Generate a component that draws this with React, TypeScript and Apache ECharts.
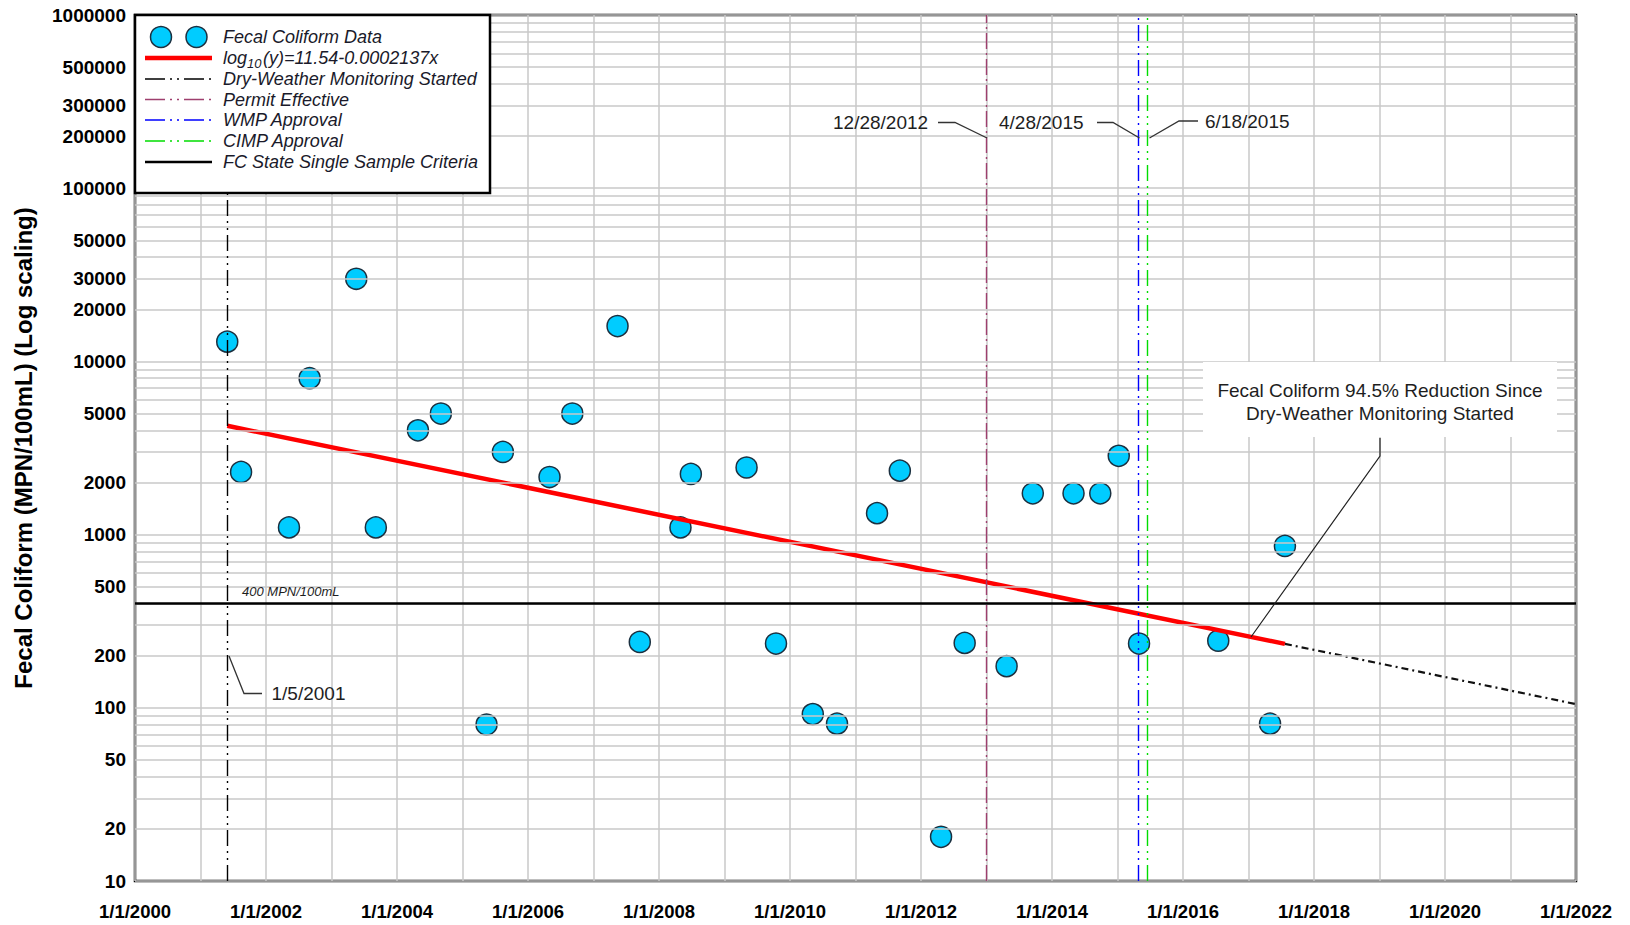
import React, { useEffect, useRef } from 'react';
import * as echarts from 'echarts';

// ---------- data ----------
const sampleDates = [
  '2001-05-30', '2001-08-15', '2002-05-09', '2002-09-01', '2003-05-19', '2003-09-05',
  '2004-04-27', '2004-09-02', '2005-05-15', '2005-08-14', '2006-05-01', '2006-09-05',
  '2007-05-15', '2007-09-16', '2008-04-30', '2008-06-27', '2009-05-04', '2009-10-15',
  '2010-05-08', '2010-09-20', '2011-05-01', '2011-09-05', '2012-04-22', '2012-09-01',
  '2013-04-23', '2013-09-16', '2014-05-01', '2014-09-27', '2015-01-08', '2015-05-01',
  '2016-07-16', '2017-05-01', '2017-07-23',
];
const fecalValues = [
  13000, 2300, 1100, 8000, 30000, 1100,
  4000, 5000, 80, 3000, 2150, 5000,
  16000, 240, 1100, 2240, 2440, 235,
  92, 81, 1330, 2340, 18, 237,
  174, 1730, 1730, 1730, 2850, 235,
  244, 81, 860,
];
const trendDates = ['2001-05-30', '2017-07-23'];
const trendValues = [4250, 234];
const projectionDates = ['2017-07-23', '2022-01-01'];
const projectionValues = [234, 105];
const criterionValue = 400;
const eventNames = ['Dry-Weather Monitoring Started', 'Permit Effective', 'WMP Approval', 'CIMP Approval'];
const eventDates = ['2001-05-30', '2012-12-28', '2015-04-28', '2015-06-18'];
const xYearRange = [2000, 2022];
const yRange = [10, 1000000];
const yTickLabels = [10, 20, 50, 100, 200, 500, 1000, 2000, 5000, 10000, 20000, 30000, 50000, 100000, 200000, 300000, 500000, 1000000];
const gridMantissas = [2, 3, 4, 5, 6, 7, 8, 9];
const gridDecades = [10, 100, 1000, 10000, 100000];

// ---------- helpers ----------
function decYear(s: string): number {
  const d = new Date(s + 'T00:00:00Z');
  const y = d.getUTCFullYear();
  const start = Date.UTC(y, 0, 1);
  const end = Date.UTC(y + 1, 0, 1);
  return y + (d.getTime() - start) / (end - start);
}

const FONT = '"Liberation Sans", Arial, Helvetica, sans-serif';
const TEXT_COLOR = '#1e1e1e';

const eventStyles = [
  { color: '#000000', width: 1.4, type: [16, 5, 2, 5, 2, 5] },
  { color: '#9e3f6e', width: 1.4, type: [16, 4, 2, 4] },
  { color: '#0000ff', width: 1.4, type: [16, 5, 2, 5, 2, 5] },
  { color: '#00dd00', width: 1.4, type: [16, 5, 2, 5, 2, 5] },
];

const yLabelStyle = {
  fontFamily: FONT,
  fontSize: 19,
  fontWeight: 'bold',
  color: '#000',
  padding: [4, 0, 0, 0],
};

function buildOption() {
  const gridValues: number[] = [];
  gridDecades.forEach((d) => gridMantissas.forEach((m) => gridValues.push(m * d)));
  const labelOnly = yTickLabels.filter((v) => gridValues.includes(v));

  const gridMarkData = gridValues.map((v) => ({
    yAxis: v,
    label: labelOnly.includes(v)
      ? { show: true, position: 'start', distance: 9, formatter: String(v), ...yLabelStyle }
      : { show: false },
  }));

  const eventMarkData: any[] = eventDates.map((d, i) => ({
    name: eventNames[i],
    xAxis: decYear(d),
    lineStyle: { color: eventStyles[i].color, width: eventStyles[i].width, type: eventStyles[i].type },
  }));
  eventMarkData.push({
    name: 'FC State Single Sample Criteria',
    yAxis: criterionValue,
    lineStyle: { color: '#000', width: 2.5, type: 'solid' },
  });

  const txt = (x: number, y: number, text: string, extra: any = {}) => ({
    type: 'text',
    x,
    y,
    z: 100,
    style: {
      text,
      fill: TEXT_COLOR,
      fontFamily: FONT,
      fontSize: 19,
      align: 'left',
      verticalAlign: 'middle',
      ...extra,
    },
  });
  const poly = (points: number[][], extra: any = {}) => ({
    type: 'polyline',
    z: 100,
    shape: { points },
    style: { stroke: '#333', lineWidth: 1.3, fill: 'none', ...extra },
  });
  const legLine = (y: number, style: any) => ({
    type: 'line',
    z: 101,
    shape: { x1: 145, y1: y, x2: 212, y2: y },
    style,
  });
  const legTextStyle = { fontSize: 18, fontStyle: 'italic', fill: '#1a1a2a' };

  const legendRows = [37, 58, 79, 99.5, 120, 141, 162];

  const graphic: any[] = [
    // legend box
    { type: 'rect', z: 100, shape: { x: 135, y: 15, width: 355, height: 178 }, style: { fill: '#fff', stroke: '#000', lineWidth: 2.5 } },
    { type: 'circle', z: 101, shape: { cx: 161, cy: legendRows[0], r: 10.5 }, style: { fill: '#00ccff', stroke: '#1b3040', lineWidth: 1.5 } },
    { type: 'circle', z: 101, shape: { cx: 196.5, cy: legendRows[0], r: 10.5 }, style: { fill: '#00ccff', stroke: '#1b3040', lineWidth: 1.5 } },
    txt(223, legendRows[0], 'Fecal Coliform Data', legTextStyle),
    legLine(legendRows[1], { stroke: '#ff0000', lineWidth: 4.5 }),
    txt(223, legendRows[1], 'log', legTextStyle),
    txt(247, legendRows[1] + 5, '10', { ...legTextStyle, fontSize: 13 }),
    txt(263, legendRows[1], '(y)=11.54-0.0002137x', legTextStyle),
    ...eventNames.map((n, i) => [
      legLine(legendRows[2 + i], { stroke: eventStyles[i].color, lineWidth: 1.4, lineDash: [20, 5, 2, 5, 2, 5] }),
      txt(223, legendRows[2 + i], n, legTextStyle),
    ]).flat(),
    legLine(legendRows[6], { stroke: '#000', lineWidth: 2.5 }),
    txt(223, legendRows[6], 'FC State Single Sample Criteria', legTextStyle),

    // 400 label
    txt(242, 591, '400 MPN/100mL', { fontSize: 13, fontStyle: 'italic' }),

    // date callouts
    poly([[229, 656], [244, 693.5], [262, 693.5]]),
    txt(271.5, 693.5, '1/5/2001'),
    poly([[938, 122.5], [955, 122.5], [987, 138]]),
    txt(833, 122.5, '12/28/2012'),
    poly([[1097, 122.5], [1113, 122.5], [1139.5, 138]]),
    txt(999, 122.5, '4/28/2015'),
    poly([[1149.5, 138], [1179, 121], [1198, 121]]),
    txt(1205, 121, '6/18/2015'),

    // reduction annotation
    { type: 'rect', z: 99, shape: { x: 1203, y: 362, width: 354, height: 75 }, style: { fill: '#fff', stroke: 'none' } },
    txt(1380, 390, 'Fecal Coliform 94.5% Reduction Since', { align: 'center' }),
    txt(1380, 413.5, 'Dry-Weather Monitoring Started', { align: 'center' }),
    poly([[1380, 438], [1380, 456], [1251, 637]], { stroke: '#222', lineWidth: 1.2 }),
  ];

  return {
    animation: false,
    backgroundColor: '#ffffff',
    grid: {
      left: 135,
      top: 15,
      right: 54,
      bottom: 44,
      show: true,
      borderColor: '#000',
      borderWidth: 2.5,
      backgroundColor: 'transparent',
    },
    xAxis: {
      type: 'value',
      min: xYearRange[0],
      max: xYearRange[1],
      interval: 1,
      axisLine: { show: false },
      axisTick: { show: false },
      axisLabel: {
        formatter: (v: number) => (Math.round(v) % 2 === 0 ? `1/1/${Math.round(v)}` : ''),
        fontFamily: FONT,
        fontSize: 18.5,
        fontWeight: 'bold',
        color: '#000',
        margin: 21,
        showMinLabel: true,
        showMaxLabel: true,
      },
      splitLine: { show: true, lineStyle: { color: '#c8c8c8', width: 1.5 } },
    },
    yAxis: {
      type: 'log',
      logBase: 10,
      min: yRange[0],
      max: yRange[1],
      axisLine: { show: false },
      axisTick: { show: false },
      axisLabel: {
        formatter: (v: number) => String(Math.round(v)),
        margin: 9,
        ...yLabelStyle,
      },
      splitLine: { show: true, lineStyle: { color: '#c8c8c8', width: 1.5 } },
      name: 'Fecal Coliform (MPN/100mL) (Log scaling)',
      nameLocation: 'middle',
      nameGap: 100,
      nameTextStyle: { fontFamily: FONT, fontSize: 24, fontWeight: 'bold', color: '#000' },
    },
    series: [
      {
        type: 'line',
        name: 'gridlines',
        data: [],
        z: 1,
        silent: true,
        markLine: {
          silent: true,
          animation: false,
          symbol: ['none', 'none'],
          lineStyle: { color: '#c8c8c8', width: 1.5, type: 'solid' },
          label: { show: false },
          emphasis: { disabled: true },
          data: gridMarkData,
        },
      },
      {
        type: 'scatter',
        name: 'Fecal Coliform Data',
        z: 3,
        symbol: 'circle',
        symbolSize: 21,
        itemStyle: { color: '#00ccff', borderColor: '#1b3040', borderWidth: 1.5, opacity: 1 },
        data: sampleDates.map((d, i) => [decYear(d), fecalValues[i]]),
      },
      {
        type: 'line',
        name: 'log10(y)=11.54-0.0002137x',
        z: 4,
        symbol: 'none',
        lineStyle: { color: '#ff0000', width: 4.5 },
        data: trendDates.map((d, i) => [decYear(d), trendValues[i]]),
      },
      {
        type: 'line',
        name: 'projection',
        z: 4,
        symbol: 'none',
        lineStyle: { color: '#111', width: 2.2, type: [7, 4, 2, 4] },
        data: projectionDates.map((d, i) => [decYear(d), projectionValues[i]]),
      },
      {
        type: 'line',
        name: 'events',
        data: [],
        z: 5,
        silent: true,
        markLine: {
          silent: true,
          animation: false,
          symbol: ['none', 'none'],
          label: { show: false },
          emphasis: { disabled: true },
          data: eventMarkData,
        },
      },
    ],
    graphic,
  };
}

export default function App() {
  const ref = useRef<HTMLDivElement>(null);
  useEffect(() => {
    if (!ref.current) return;
    const chart = echarts.init(ref.current, undefined, { renderer: 'svg' });
    chart.setOption(buildOption() as any);
    return () => chart.dispose();
  }, []);
  return (
    <div
      ref={ref}
      style={{ position: 'absolute', left: 0, top: 0, width: 1630, height: 925, background: '#fff' }}
    />
  );
}
